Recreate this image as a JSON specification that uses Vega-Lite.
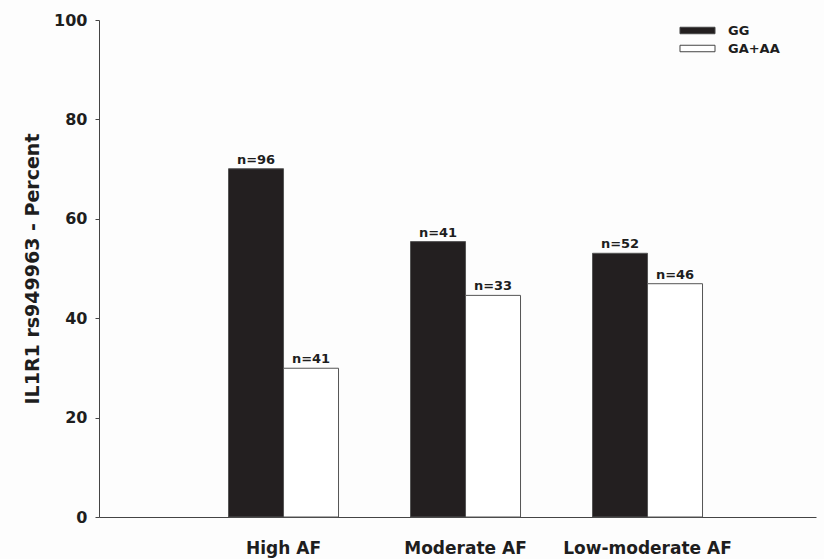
{
  "$schema": "https://vega.github.io/schema/vega-lite/v6.json",
  "width": 717,
  "height": 497,
  "autosize": "none",
  "padding": {"left": 99, "top": 20, "right": 8, "bottom": 42},
  "background": "#fdfdfd",
  "config": {
    "font": "DejaVu Sans",
    "view": {"stroke": null}
  },
  "data": {
    "values": [
      {"group": "High AF", "genotype": "GG", "percent": 70.07, "label": "n=96"},
      {"group": "High AF", "genotype": "GA+AA", "percent": 29.93, "label": "n=41"},
      {"group": "Moderate AF", "genotype": "GG", "percent": 55.41, "label": "n=41"},
      {"group": "Moderate AF", "genotype": "GA+AA", "percent": 44.59, "label": "n=33"},
      {"group": "Low-moderate AF", "genotype": "GG", "percent": 53.06, "label": "n=52"},
      {"group": "Low-moderate AF", "genotype": "GA+AA", "percent": 46.94, "label": "n=46"}
    ]
  },
  "encoding": {
    "x": {
      "field": "group",
      "type": "nominal",
      "sort": ["High AF", "Moderate AF", "Low-moderate AF"],
      "scale": {"paddingInner": 0.3956, "paddingOuter": 0.6676, "align": 0.533},
      "axis": {
        "title": null,
        "labelAngle": 0,
        "ticks": false,
        "domainColor": "#444444",
        "domainWidth": 1,
        "labelFont": "DejaVu Sans",
        "labelFontSize": 17,
        "labelFontWeight": "bold",
        "labelColor": "#1e1e1e",
        "labelPadding": 23
      }
    },
    "xOffset": {
      "field": "genotype",
      "type": "nominal",
      "sort": ["GG", "GA+AA"],
      "scale": {"paddingInner": 0, "paddingOuter": 0}
    },
    "y": {
      "field": "percent",
      "type": "quantitative",
      "scale": {"domain": [0, 100], "nice": false},
      "axis": {
        "title": "IL1R1 rs949963 - Percent",
        "titleFont": "DejaVu Sans",
        "titleFontSize": 19,
        "titleFontWeight": "bold",
        "titleColor": "#1e1e1e",
        "titlePadding": 11,
        "values": [0, 20, 40, 60, 80, 100],
        "grid": false,
        "tickSize": 4,
        "tickColor": "#444444",
        "domainColor": "#444444",
        "labelFont": "DejaVu Sans",
        "labelFontSize": 16,
        "labelFontWeight": "bold",
        "labelColor": "#1e1e1e",
        "labelPadding": 8
      }
    }
  },
  "layer": [
    {
      "mark": {"type": "bar", "stroke": "#555555", "strokeWidth": 1},
      "encoding": {
        "fill": {
          "field": "genotype",
          "type": "nominal",
          "sort": ["GG", "GA+AA"],
          "scale": {"domain": ["GG", "GA+AA"], "range": ["#231f20", "#ffffff"]},
          "legend": {
            "title": null,
            "orient": "none",
            "legendX": 592,
            "legendY": 4,
            "symbolType": "M-2.917,-0.54H2.917V0.54H-2.917Z",
            "symbolSize": 144,
            "symbolStrokeColor": "#444444",
            "symbolStrokeWidth": 1,
            "labelFont": "DejaVu Sans",
            "labelFontSize": 13,
            "labelFontWeight": "bold",
            "labelColor": "#1e1e1e",
            "labelOffset": 24,
            "rowPadding": 4
          }
        }
      }
    },
    {
      "mark": {
        "type": "text",
        "baseline": "alphabetic",
        "dy": -5,
        "font": "DejaVu Sans",
        "fontSize": 13,
        "fontWeight": "bold",
        "color": "#1e1e1e"
      },
      "encoding": {
        "text": {"field": "label"}
      }
    }
  ]
}
